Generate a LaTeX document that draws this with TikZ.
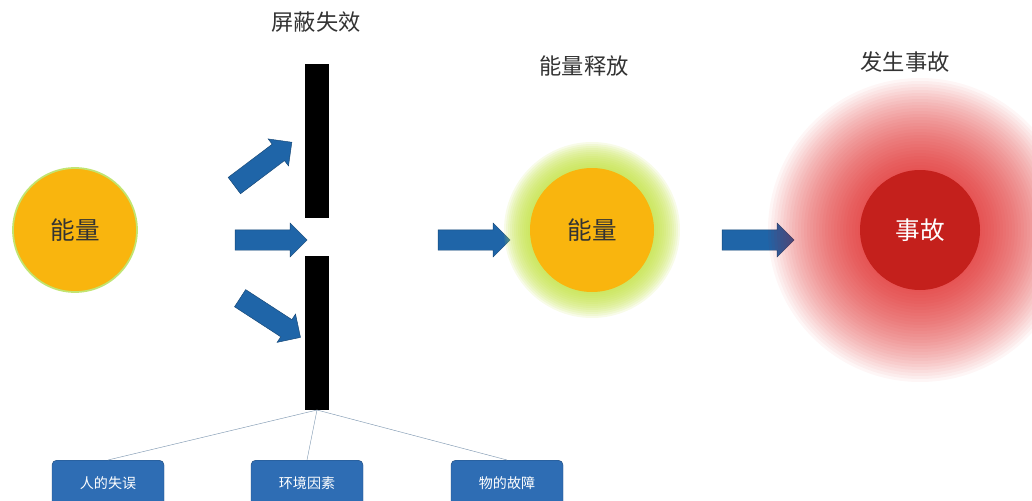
\documentclass[tikz,border=0pt]{standalone}
\usepackage{fontspec}
\setmainfont{Noto Sans CJK SC}
\usetikzlibrary{shapes.arrows}
\definecolor{energy}{HTML}{F9B50E}
\definecolor{flow}{HTML}{1F65A8}
\definecolor{boxblue}{HTML}{2E6DB4}
\definecolor{accident}{HTML}{C4201C}
\begin{document}
\begin{tikzpicture}
[
x=0.03cm,y=-0.03cm,
title/.style={font=\fontsize{19}{21}\selectfont,text=black!80},
ball/.style={circle,fill=energy,minimum size=124*0.03cm,text=black!80,font=\fontsize{21}{23}\selectfont},
push/.style={single arrow,draw=flow!70!black,fill=flow,minimum height=72*0.03cm,
             inner sep=0.3cm,single arrow head extend=0.2cm,
             single arrow head indent=0pt},
barrier/.style={fill=black},
cause/.style={rounded corners=4pt,fill=boxblue,draw=boxblue!70!black,text=white,
              minimum width=112*0.03cm,minimum height=46*0.03cm,font=\fontsize{12}{14}\selectfont},
link/.style={draw=flow!50!gray!70,thin},
]
\useasboundingbox (0,0) rectangle (1032,500);

%titles
\node[title] (t1) at (316,22) {屏蔽失效};
\node[title] (t2) at (584,66) {能量释放};
\node[title] (t3) at (905,62) {发生事故};

%energy source
\node[ball,draw=yellow!60!green!60,line width=1.5pt] (src) at (75,230) {能量};

%barrier
\fill[barrier] (305,64) rectangle (329,218);
\fill[barrier] (305,256) rectangle (329,410);
\coordinate (foot) at (317,410);

%arrows
\node[push,rotate=37] (a1) at (259,167) {};
\node[push] (a2) at (266,240) {};
\node[push,rotate=-33] (a3) at (266,315) {};
\node[push] (a4) at (469,240) {};
\node[push] (a5) at (753,240) {};

%released energy
\foreach \r in {88,86,...,62}
  \fill[yellow!70!green!80,opacity=0.12] (592,230) circle (\r);
\node[ball] (rel) at (592,230) {能量};

%accident
\foreach \r in {152,149,...,60}
  \fill[red!85!black,opacity=0.035] (920,230) circle (\r);
\node[ball,fill=accident,text=white,minimum size=120*0.03cm] (acc) at (920,230) {事故};

%causes
\node[cause,anchor=north] (c1) at (108,460) {人的失误};
\node[cause,anchor=north] (c2) at (307,460) {环境因素};
\node[cause,anchor=north] (c3) at (507,460) {物的故障};
\draw[link] (foot) -- (c1.north);
\draw[link] (foot) -- (c2.north);
\draw[link] (foot) -- (c3.north);
\end{tikzpicture}
\end{document}
